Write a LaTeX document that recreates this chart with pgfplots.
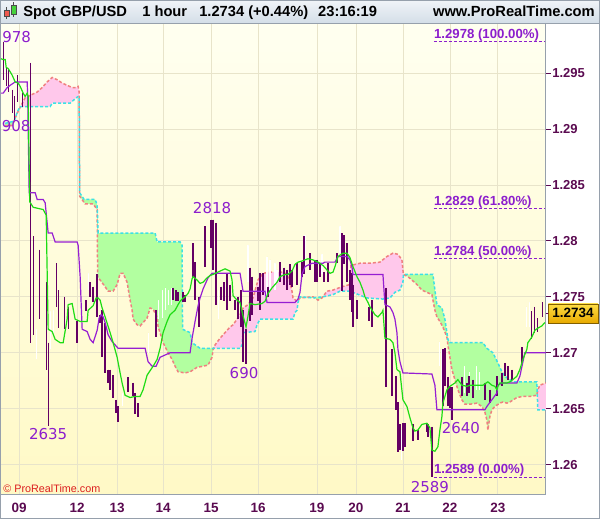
\documentclass[border=0pt]{standalone}
\usepackage{pgfplots}
\pgfplotsset{compat=1.18}
\usepackage{pgfplotstable}
\usepgfplotslibrary{fillbetween}
\usepackage{fontspec}
\setmainfont{Liberation Sans}
\newfontfamily\dejavu{DejaVu Sans}

\definecolor{bgtop}{RGB}{255,255,240}
\definecolor{bgbot}{RGB}{255,249,198}
\definecolor{gridc}{RGB}{232,228,202}
\definecolor{framec}{RGB}{150,160,172}
\definecolor{tickc}{RGB}{90,10,80}
\definecolor{barc}{RGB}{100,0,100}
\definecolor{kijun}{RGB}{150,30,210}
\definecolor{tenkan}{RGB}{30,220,20}
\definecolor{spanA}{RGB}{240,128,128}
\definecolor{spanB}{RGB}{60,225,230}
\definecolor{cloudpink}{RGB}{255,200,235}
\definecolor{cloudgreen}{RGB}{178,255,160}
\definecolor{fibc}{RGB}{140,30,205}
\definecolor{hdrtop}{RGB}{240,244,248}
\definecolor{hdrbot}{RGB}{212,222,232}

% down candles (high, low)
\pgfplotstableread{
x hi lo
3 1.2978 1.2944
6 1.2955 1.2938
8 1.2953 1.2933
12 1.2935 1.2914
14 1.2929 1.2908
17 1.2948 1.2924
22 1.2932 1.2920
30 1.2959 1.2709
33 1.2804 1.2716
39 1.2792 1.2730
46 1.2763 1.2685
48 1.2709 1.2635
56 1.2780 1.2741
58 1.2756 1.2722
64 1.2750 1.2721
68 1.2741 1.2721
77 1.2728 1.2709
86 1.2747 1.2737
90 1.2763 1.2750
93 1.2759 1.2745
97 1.2770 1.2732
100 1.2734 1.2727
102 1.2738 1.2696
105 1.2727 1.2682
108 1.2685 1.2673
110 1.2685 1.2667
113 1.2680 1.2660
116 1.2658 1.2646
118 1.2652 1.2638
128 1.2678 1.2665
133 1.2673 1.2661
135 1.2664 1.2645
138 1.2655 1.2643
156 1.2738 1.2714
173 1.2758 1.2747
176 1.2756 1.2746
178 1.2754 1.2746
183 1.2754 1.2745
185 1.2752 1.2745
193 1.2798 1.2768
195 1.2781 1.2747
199 1.2750 1.2723
205 1.2813 1.2777
211 1.2819 1.2794
213 1.2819 1.2774
216 1.2816 1.2743
221 1.2759 1.2747
224 1.2763 1.2746
227 1.2771 1.2738
230 1.2761 1.2746
235 1.2747 1.2738
238 1.2750 1.2730
241 1.2756 1.2723
243 1.2738 1.2692
246 1.2721 1.2690
250 1.2776 1.2728
252 1.2768 1.2734
258 1.2759 1.2746
260 1.2771 1.2738
263 1.2771 1.2752
268 1.2759 1.2750
280 1.2781 1.2763
284 1.2776 1.2761
287 1.2774 1.2756
290 1.2779 1.2761
292 1.2774 1.2759
297 1.2780 1.2761
302 1.2781 1.2768
304 1.2804 1.2770
310 1.2789 1.2774
315 1.2783 1.2763
317 1.2783 1.2763
320 1.2779 1.2768
324 1.2772 1.2763
328 1.2780 1.2763
337 1.2789 1.2780
342 1.2807 1.2755
344 1.2805 1.2779
347 1.2798 1.2763
350 1.2774 1.2747
352 1.2771 1.2736
353 1.2761 1.2723
357 1.2747 1.2730
369 1.2741 1.2728
372 1.2747 1.2723
386 1.2758 1.2669
392 1.2703 1.2661
396 1.2679 1.2649
398 1.2656 1.2611
400 1.2636 1.2613
403 1.2637 1.2612
405 1.2637 1.2616
413 1.2636 1.2621
418 1.2631 1.2622
427 1.2637 1.2629
428 1.2636 1.2625
432 1.2634 1.2589
443 1.2703 1.2652
445 1.2704 1.2670
448 1.2678 1.2652
450 1.2669 1.2651
452 1.2669 1.2640
462 1.2678 1.2661
467 1.2673 1.2661
469 1.2679 1.2664
473 1.2676 1.2660
485 1.2673 1.2658
490 1.2667 1.2655
497 1.2679 1.2661
502 1.2682 1.2670
505 1.2691 1.2679
508 1.2688 1.2676
512 1.2685 1.2676
522 1.2705 1.2691
532 1.2737 1.2712
535 1.2741 1.2718
538 1.2731 1.2719
543 1.2745 1.2732
}\downbars

% up candles (high, low)
\pgfplotstableread{
x hi lo
36 1.2721 1.2694
50 1.2737 1.2703
53 1.2738 1.2718
88 1.2771 1.2756
122 1.2664 1.2652
148 1.2718 1.2700
158 1.2747 1.2730
162 1.2756 1.2731
165 1.2758 1.2738
168 1.2756 1.2743
171 1.2758 1.2743
218 1.2756 1.2730
248 1.2796 1.2763
267 1.2786 1.2750
270 1.2783 1.2756
275 1.2780 1.2756
277 1.2774 1.2763
305 1.2805 1.2777
322 1.2788 1.2770
340 1.2813 1.2789
402 1.2631 1.2604
440 1.2710 1.2688
442 1.2703 1.2658
465 1.2688 1.2664
470 1.2683 1.2664
477 1.2688 1.2667
480 1.2683 1.2667
527 1.2741 1.2723
530 1.2745 1.2723
}\upbars

\begin{document}
\begin{tikzpicture}
\begin{scope}[x=1pt,y=1pt]
\useasboundingbox (0,0) rectangle (600,519);
\shade[top color=hdrtop,bottom color=hdrbot] (0,496) rectangle (600,519);
\end{scope}

\begin{axis}[
  at={(1pt,24pt)}, anchor=south west,
  scale only axis, width=545pt, height=472pt,
  set layers,
  xmin=1, xmax=546, ymin=1.25732, ymax=1.29947,
  axis background/.style={shade, top color=bgtop, bottom color=bgbot},
  xtick={19,77,117,163,211,258,317,356,403,450,498},
  xticklabels={09,12,13,14,15,16,19,20,21,22,23},
  ytick={1.26,1.265,1.27,1.275,1.28,1.285,1.29,1.295},
  yticklabels={1.26,1.265,1.27,1.275,1.28,1.285,1.29,1.295},
  grid=major, major grid style={gridc, line width=0.8pt},
  axis x line*=bottom, axis y line*=right,
  axis line style={framec, line width=1pt},
  tick align=outside, major tick length=5pt,
  x tick style={draw=none},
  y tick style={tickc, line width=0.8pt},
  xticklabel style={font=\bfseries\fontsize{13.5}{13.5}\selectfont, text=tickc},
  yticklabel style={font=\bfseries\fontsize{13}{13}\selectfont, text=tickc, xshift=-2pt},
]

% cloud: span A (salmon) and span B (cyan)
\addplot[name path=S, spanA, line width=1.5pt, dash pattern=on 3pt off 2pt] coordinates {
(5,1.2903) (12,1.2903) (17,1.2914) (25,1.2928) (30,1.2930) (37,1.2933) (42,1.2937)
(47,1.2942) (52,1.2946) (57,1.2944) (62,1.2941) (67,1.2939) (72,1.2937) (76,1.2937)
(78,1.2938) (79,1.2933) (79.5,1.2840) (85,1.2833) (93,1.2833) (97,1.2828) (97.5,1.2768)
(100,1.2765) (105,1.2759) (108,1.2755) (113,1.2755) (117,1.2761) (120,1.2771) (123,1.2771)
(127,1.2763) (130,1.2747) (132,1.2738) (133,1.2730) (137,1.2725) (140,1.2724) (143,1.2727)
(147,1.2731) (150,1.2740) (153,1.2739) (157,1.2732) (158,1.2723) (160,1.2718) (163,1.2709)
(168,1.2700) (172,1.2694) (175,1.2688) (178,1.2683) (185,1.2682) (190,1.2683) (197,1.2687)
(203,1.2688) (208,1.2689) (212,1.2696) (213,1.2703) (215,1.2707) (220,1.2713) (225,1.2718)
(230,1.2723) (233,1.2725) (237,1.2730) (240,1.2734) (243,1.2740) (248,1.2743) (253,1.2749)
(258,1.2765) (263,1.2771) (270,1.2772) (283,1.2772) (287,1.2770) (290,1.2763) (292,1.2755)
(293,1.2749) (297,1.2746) (300,1.2749) (313,1.2750) (318,1.2747) (322,1.2749) (327,1.2755)
(333,1.2756) (342,1.2759) (350,1.2761) (351,1.2778) (360,1.2780) (370,1.2780) (380,1.2781)
(387,1.2786) (393,1.2789) (398,1.2788) (402,1.2783) (403,1.2774) (403.5,1.2770) (408,1.2768)
(412,1.2765) (417,1.2761) (422,1.2756) (427,1.2754) (432,1.2752) (435,1.2738) (437,1.2732)
(440,1.2728) (443,1.2723) (447,1.2714) (448,1.2707) (450,1.2696) (452,1.2685) (455,1.2676)
(458,1.2667) (462,1.2658) (465,1.2654) (470,1.2654) (477,1.2655) (482,1.2652) (485,1.2647)
(487,1.2640) (488,1.2631) (490,1.2643) (492,1.2649) (495,1.2652) (500,1.2655) (503,1.2656)
(507,1.2655) (510,1.2656) (517,1.2660) (523,1.2661) (530,1.2661) (537,1.2662) (538,1.2667)
(540,1.2671) (546,1.2673)
};
\addplot[name path=C, spanB, line width=1.5pt, dash pattern=on 3pt off 2pt] coordinates {
(5,1.2905) (14,1.2907) (17,1.2915) (20,1.2920) (50,1.2920) (52,1.2923) (70,1.2923)
(75,1.2927) (78,1.2929) (79,1.2929) (79.5,1.2843) (84,1.2837) (95,1.2837) (97,1.2832)
(98,1.2807) (155,1.2807) (157,1.2799) (180,1.2799) (182,1.2796) (182.5,1.2721) (190,1.2718)
(192,1.2709) (200,1.2704) (215,1.2704) (240,1.2704) (242,1.2707) (243,1.2718) (255,1.2719)
(257,1.2725) (260,1.2730) (273,1.2730) (293,1.2730) (295,1.2736) (297,1.2738) (298,1.2745)
(300,1.2750) (313,1.2749) (323,1.2750) (333,1.2752) (340,1.2755) (350,1.2755) (367,1.2749)
(383,1.2748) (390,1.2749) (395,1.2754) (400,1.2756) (403,1.2763) (403.5,1.2770) (433,1.2770)
(435,1.2756) (437,1.2743) (442,1.2740) (445,1.2730) (448,1.2712) (450,1.2709) (483,1.2709)
(487,1.2704) (493,1.2700) (498,1.2691) (502,1.2683) (505,1.2679) (510,1.2676) (513,1.2674)
(537,1.2674) (538,1.2649) (546,1.2649)
};
\addplot[cloudgreen] fill between[of=S and C, soft clip={(5,1.25) rectangle (21,1.30)}];
\addplot[cloudpink]  fill between[of=S and C, soft clip={(21,1.25) rectangle (79.3,1.30)}];
\addplot[cloudgreen] fill between[of=S and C, soft clip={(79.3,1.25) rectangle (213.5,1.30)}];
\addplot[cloudpink]  fill between[of=S and C, soft clip={(213.5,1.25) rectangle (299.5,1.30)}];
\addplot[cloudgreen] fill between[of=S and C, soft clip={(299.5,1.25) rectangle (324,1.30)}];
\addplot[cloudpink]  fill between[of=S and C, soft clip={(324,1.25) rectangle (403.5,1.30)}];
\addplot[cloudgreen] fill between[of=S and C, soft clip={(403.5,1.25) rectangle (537.5,1.30)}];
\addplot[cloudpink]  fill between[of=S and C, soft clip={(537.5,1.25) rectangle (546,1.30)}];

% candles
\addplot[only marks, mark=none, mark size=0pt, mark options={draw=none, fill=none}, forget plot,
  error bars/.cd, y dir=minus, y explicit, error mark=none,
  error bar style={draw=white, line width=1.1pt, solid}]
  table[x=x, y=hi, y error minus expr=\thisrow{hi}-\thisrow{lo}] {\upbars};
\addplot[only marks, mark=none, mark size=0pt, mark options={draw=none, fill=none}, forget plot,
  error bars/.cd, y dir=minus, y explicit, error mark=none,
  error bar style={draw=barc, line width=1.3pt, solid}]
  table[x=x, y=hi, y error minus expr=\thisrow{hi}-\thisrow{lo}] {\downbars};

% kijun (purple)
\addplot[kijun, line width=1.2pt] coordinates {
(0,1.2932) (3,1.2932) (7,1.2937) (10,1.2939) (15,1.2942) (27,1.2942) (27.5,1.2929)
(29,1.2843) (35,1.2843) (37,1.2837) (43,1.2837) (45,1.2834) (48,1.2807) (52,1.2807)
(55,1.2799) (77,1.2799) (78,1.2796) (80,1.2768) (82,1.2721) (87,1.2719) (90,1.2712)
(93,1.2709) (97,1.2720) (99,1.2731) (101,1.2734) (103,1.2732) (105,1.2727) (108,1.2716)
(112,1.2710) (118,1.2704) (145,1.2704) (148,1.2692) (152,1.2688) (156,1.2688) (160,1.2696)
(165,1.2698) (170,1.2700) (190,1.2700) (192,1.2713) (195,1.2728) (198,1.2742) (200,1.2749)
(203,1.2757) (208,1.2767) (212,1.2771) (240,1.2771) (243,1.2755) (265,1.2755) (267,1.2745)
(295,1.2745) (298,1.2748) (300,1.2754) (302,1.2770) (305,1.2777) (312,1.2780) (323,1.2780)
(325,1.2781) (335,1.2781) (338,1.2786) (347,1.2786) (350,1.2783) (352,1.2777) (353,1.2770)
(383,1.2770) (385,1.2743) (390,1.2741) (393,1.2736) (395,1.2730) (397,1.2718) (398,1.2703)
(400,1.2692) (403,1.2682) (432,1.2681) (435,1.2671) (437,1.2649) (485,1.2649) (487,1.2652)
(497,1.2664) (498,1.2671) (502,1.2673) (517,1.2673) (520,1.2679) (525,1.2700) (546,1.2700)
};
% tenkan (green)
\addplot[tenkan, line width=1.2pt] coordinates {
(0,1.2963) (3,1.2962) (5,1.2962) (6,1.2955) (8,1.2954) (12,1.2948) (15,1.2942) (18,1.2941)
(20,1.2938) (23,1.2932) (25,1.2929) (27,1.2932) (28,1.2929) (29.5,1.2835) (33,1.2830)
(43,1.2828) (46,1.2823) (48,1.2721) (52,1.2719) (55,1.2712) (60,1.2709) (63,1.2709)
(67,1.2730) (68,1.2743) (72,1.2744) (75,1.2730) (80,1.2728) (87,1.2728) (88,1.2738)
(93,1.2742) (96,1.2749) (98,1.2749) (100,1.2747) (102,1.2740) (105,1.2732) (110,1.2718)
(113,1.2709) (117,1.2696) (120,1.2682) (122,1.2673) (125,1.2662) (130,1.2660) (135,1.2661)
(140,1.2661) (143,1.2667) (147,1.2680) (150,1.2684) (153,1.2688) (157,1.2694) (160,1.2704)
(163,1.2718) (167,1.2728) (170,1.2734) (175,1.2738) (178,1.2743) (180,1.2746) (182,1.2748)
(185,1.2750) (188,1.2753) (190,1.2757) (192,1.2766) (193,1.2768) (197,1.2765) (200,1.2762)
(203,1.2763) (207,1.2767) (210,1.2769) (213,1.2770) (220,1.2773) (225,1.2775) (230,1.2773)
(232,1.2765) (233,1.2751) (237,1.2747) (240,1.2745) (243,1.2733) (246,1.2723) (248,1.2733)
(250,1.2744) (255,1.2743) (262,1.2744) (265,1.2746) (268,1.2753) (272,1.2758) (277,1.2763)
(280,1.2768) (285,1.2770) (288,1.2770) (292,1.2773) (295,1.2779) (298,1.2781) (302,1.2782)
(308,1.2784) (313,1.2783) (318,1.2781) (323,1.2778) (327,1.2774) (330,1.2771) (333,1.2772)
(335,1.2777) (338,1.2786) (343,1.2789) (347,1.2789) (350,1.2785) (353,1.2777) (357,1.2768)
(360,1.2763) (363,1.2756) (365,1.2750) (368,1.2745) (370,1.2741) (375,1.2734) (378,1.2732)
(382,1.2736) (383,1.2738) (385,1.2713) (390,1.2712) (393,1.2709) (395,1.2700) (397,1.2685)
(400,1.2683) (403,1.2658) (407,1.2652) (410,1.2642) (413,1.2633) (415,1.2630) (418,1.2631)
(422,1.2636) (427,1.2637) (430,1.2633) (432,1.2613) (435,1.2612) (438,1.2616) (440,1.2631)
(442,1.2643) (443,1.2655) (447,1.2667) (450,1.2670) (455,1.2673) (458,1.2676) (462,1.2671)
(467,1.2670) (470,1.2671) (483,1.2671) (488,1.2674) (492,1.2671) (495,1.2670) (497,1.2667)
(498,1.2670) (500,1.2673) (507,1.2673) (510,1.2674) (513,1.2676) (517,1.2679) (520,1.2685)
(523,1.2694) (527,1.2703) (528,1.2709) (532,1.2714) (535,1.2720) (538,1.2722) (542,1.2724)
(545,1.2727)
};

% Fibonacci levels
\addplot[fibc, line width=0.9pt, dash pattern=on 3pt off 2pt] coordinates {(434,1.2978) (545,1.2978)};
\addplot[fibc, line width=0.9pt, dash pattern=on 3pt off 2pt] coordinates {(434,1.2829) (545,1.2829)};
\addplot[fibc, line width=0.9pt, dash pattern=on 3pt off 2pt] coordinates {(434,1.2784) (545,1.2784)};
\addplot[fibc, line width=0.9pt, dash pattern=on 3pt off 2pt] coordinates {(434,1.2589) (545,1.2589)};
\begin{scope}[every node/.style={anchor=base west, text=fibc, inner sep=0pt, yshift=3pt,
    font=\bfseries\fontsize{13.2}{13.2}\selectfont}]
\node at (axis cs:434,1.2978) {1.2978 (100.00\%)};
\node at (axis cs:434,1.2829) {1.2829 (61.80\%)};
\node at (axis cs:434,1.2784) {1.2784 (50.00\%)};
\node at (axis cs:434,1.2589) {1.2589 (0.00\%)};
\end{scope}

% swing high / low labels
\begin{scope}[every node/.style={text=fibc, inner sep=0pt, font=\dejavu\fontsize{15}{15}\selectfont}]
\node[anchor=west] at (axis cs:2,1.2982) {978};
\node[anchor=west] at (axis cs:1.5,1.2903) {908};
\node at (axis cs:212,1.2829) {2818};
\node at (axis cs:244,1.2682) {690};
\node at (axis cs:48,1.2627) {2635};
\node at (axis cs:461,1.2633) {2640};
\node at (axis cs:430,1.2580) {2589};
\end{scope}
\end{axis}

\begin{scope}[x=1pt,y=1pt]
% copyright
\node[anchor=west, inner sep=0pt, text={rgb,255:red,220;green,30;blue,30},
  font=\fontsize{10.8}{10.8}\selectfont] at (3,30) {© ProRealTime.com};

% current price tag
\draw[barc, line width=1pt] (546,205.5) -- (549,205.5);
\shade[top color={rgb,255:red,255;green,222;blue,70}, bottom color={rgb,255:red,232;green,170;blue,0},
  draw={rgb,255:red,130;green,95;blue,0}] (548.5,196) rectangle (598,215);
\node[font=\bfseries\fontsize{13.5}{13.5}\selectfont] at (573.3,205.5) {1.2734};

% header
\draw[framec] (0,496) -- (600,496);
\draw[black!70] (6.5,500) -- (6.5,512);
\filldraw[fill={rgb,255:red,240;green,90;blue,80}, draw=black!70] (4,503) rectangle (9,509);
\draw[black!70] (13.5,502) -- (13.5,517);
\filldraw[fill={rgb,255:red,70;green,210;blue,60}, draw=black!70] (11,505) rectangle (16,514);
\begin{scope}[every node/.style={anchor=base west, inner sep=0pt, font=\bfseries\fontsize{14.7}{14.7}\selectfont}]
\node at (23,502) {Spot GBP/USD};
\node at (142,502) {1 hour};
\node at (199,502) {1.2734 (+0.44\%)};
\node at (318,502) {23:16:19};
\node at (433,502) {www.ProRealTime.com};
\end{scope}
\draw[framec, line width=1pt] (0.5,0.5) rectangle (599.5,518.5);
\end{scope}
\end{tikzpicture}
\end{document}
